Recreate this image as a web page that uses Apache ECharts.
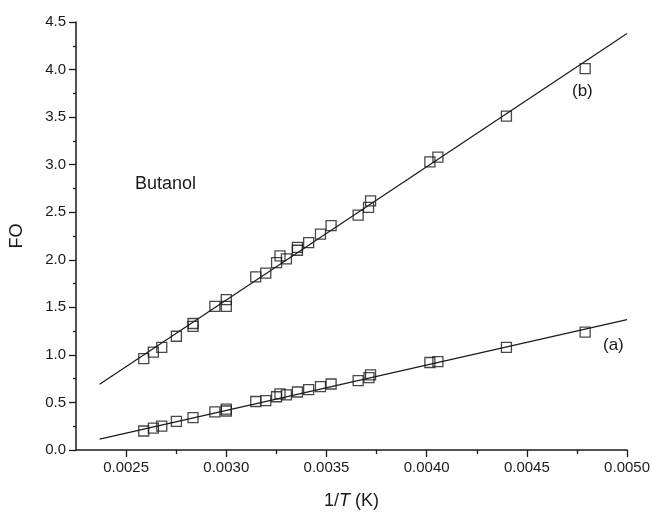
<!DOCTYPE html>
<html>
<head>
<meta charset="utf-8">
<title>Butanol FO vs 1/T</title>
<script src="https://cdn.jsdelivr.net/npm/echarts@6/dist/echarts.min.js"></script>
<style>
  html, body { margin: 0; padding: 0; background: #fff; }
  #chart { width: 653px; height: 515px; }
</style>
</head>
<body>
<div id="chart"></div>
<script>
// 数据：1/T (K) 与 FO
const invTa = [0.002588, 0.002636, 0.002678, 0.002751, 0.002834, 0.002943, 0.0030, 0.0030,
    0.003147, 0.003197, 0.003251, 0.003268, 0.0033, 0.003355, 0.003411, 0.00347, 0.003523,
    0.003658, 0.003712, 0.00372, 0.004016, 0.004056, 0.004398, 0.004791];
const foA = [0.20, 0.23, 0.25, 0.30, 0.34, 0.40, 0.43, 0.41,
    0.51, 0.52, 0.56, 0.59, 0.58, 0.61, 0.635, 0.666, 0.694,
    0.73, 0.76, 0.79, 0.92, 0.93, 1.08, 1.24];

const invTb = [0.002588, 0.002636, 0.002678, 0.002751, 0.002834, 0.002834, 0.002943, 0.0030, 0.0030,
    0.003147, 0.003197, 0.003251, 0.003268, 0.0033, 0.003355, 0.003355, 0.003411, 0.00347, 0.003523,
    0.003658, 0.00371, 0.00372, 0.004016, 0.004056, 0.004398, 0.004791];
const foB = [0.96, 1.03, 1.08, 1.196, 1.33, 1.30, 1.51, 1.58, 1.51,
    1.82, 1.86, 1.97, 2.04, 2.01, 2.10, 2.13, 2.18, 2.27, 2.36,
    2.47, 2.55, 2.62, 3.03, 3.08, 3.51, 4.01];

// 拟合直线端点
const fitX = [0.002368, 0.0050];
const fitA = [0.115, 1.37];
const fitB = [0.69, 4.38];

// 刻度
const xMajorTicks = [0.0025, 0.0030, 0.0035, 0.0040, 0.0045, 0.0050];
const xMinorTicks = [0.00275, 0.00325, 0.00375, 0.00425, 0.00475];

const zip = (xs, ys) => xs.map((x, i) => [x, ys[i]]);

const FONT = '"Liberation Sans", Arial, sans-serif';
const INK = '#1a1a1a';

const chart = echarts.init(document.getElementById('chart'));

const squareStyle = {
    color: 'rgba(0,0,0,0)',
    borderColor: INK,
    borderWidth: 1.3
};

chart.setOption({
    backgroundColor: '#fff',
    animation: false,
    grid: { left: 71, right: 22, top: 22, bottom: 63 },
    xAxis: [{
        type: 'value',
        min: 0.00225,
        max: 0.0050,
        name: '{a|1/}{i|T}{a| (K)}',
        nameLocation: 'middle',
        nameGap: 42,
        nameTextStyle: {
            rich: {
                a: { fontFamily: FONT, fontSize: 18, color: INK },
                i: { fontFamily: FONT, fontSize: 18, color: INK, fontStyle: 'italic' }
            }
        },
        splitLine: { show: false },
        axisLine: { onZero: false, lineStyle: { color: INK, width: 1.5 } },
        axisTick: { customValues: xMajorTicks, length: 7, lineStyle: { color: INK, width: 1.3 } },
        axisLabel: {
            customValues: xMajorTicks,
            formatter: v => v.toFixed(4),
            fontFamily: FONT, fontSize: 15, color: INK, margin: 10
        }
    }, {
        type: 'value',
        min: 0.00225,
        max: 0.0050,
        position: 'bottom',
        splitLine: { show: false },
        axisLine: { show: false },
        axisTick: { customValues: xMinorTicks, length: 4, lineStyle: { color: INK, width: 1.3 } },
        axisLabel: { show: false }
    }],
    yAxis: {
        type: 'value',
        min: 0,
        max: 4.5,
        interval: 0.5,
        name: 'FO',
        nameLocation: 'middle',
        nameGap: 50,
        nameTextStyle: { fontFamily: FONT, fontSize: 18, color: INK },
        splitLine: { show: false },
        axisLine: { lineStyle: { color: INK, width: 1.5 } },
        axisTick: { length: 7, lineStyle: { color: INK, width: 1.3 } },
        minorTick: { show: true, splitNumber: 2, length: 3, lineStyle: { color: INK, width: 1.3 } },
        axisLabel: {
            formatter: v => v.toFixed(1),
            fontFamily: FONT, fontSize: 15, color: INK, margin: 10
        }
    },
    series: [{
        type: 'line',
        data: zip(fitX, fitA),
        showSymbol: false,
        lineStyle: { color: INK, width: 1.2 },
        z: 2
    }, {
        type: 'line',
        data: zip(fitX, fitB),
        showSymbol: false,
        lineStyle: { color: INK, width: 1.2 },
        z: 2
    }, {
        type: 'scatter',
        data: zip(invTa, foA),
        symbol: 'rect',
        symbolSize: 10,
        itemStyle: squareStyle,
        z: 3
    }, {
        type: 'scatter',
        data: zip(invTb, foB),
        symbol: 'rect',
        symbolSize: 10,
        itemStyle: squareStyle,
        z: 3
    }],
    graphic: [
        { type: 'text', left: 135, top: 175, style: { text: 'Butanol', font: '18px ' + FONT, fill: INK } },
        { type: 'text', left: 572, top: 83, style: { text: '(b)', font: '17px ' + FONT, fill: INK } },
        { type: 'text', left: 603, top: 337, style: { text: '(a)', font: '17px ' + FONT, fill: INK } }
    ]
});
</script>
</body>
</html>
